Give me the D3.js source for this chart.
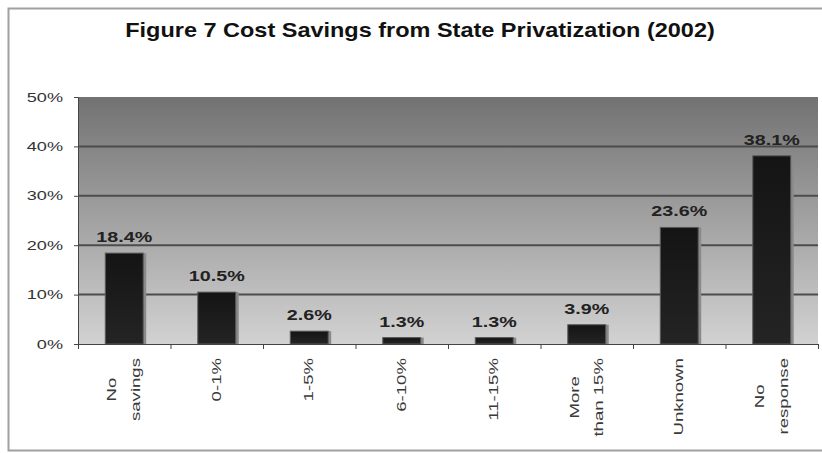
<!DOCTYPE html>
<html>
<head>
<meta charset="utf-8">
<script src="https://cdn.jsdelivr.net/npm/d3@7"></script>
<style>
  html, body { margin: 0; padding: 0; background: #fff; }
  svg { display: block; font-family: "Liberation Sans", Arial, sans-serif; }
</style>
</head>
<body>
<svg id="chart" width="822" height="453"></svg>
<script>
const titleText = "Figure 7 Cost Savings from State Privatization (2002)";
const categories = [["No", "savings"], ["0-1%"], ["1-5%"], ["6-10%"], ["11-15%"], ["More", "than 15%"], ["Unknown"], ["No", "response"]];
const values = [18.4, 10.5, 2.6, 1.3, 1.3, 3.9, 23.6, 38.1];
const yTicks = [0, 10, 20, 30, 40, 50];

const svg = d3.select("#chart");
const plot = { left: 78, right: 818, top: 97, bottom: 344 };

// outer frame
svg.append("rect")
  .attr("x", 8.5).attr("y", 8.5).attr("width", 830).attr("height", 442)
  .attr("fill", "#fff").attr("stroke", "#a0a0a0").attr("stroke-width", 2);

const defs = svg.append("defs");
const bg = defs.append("linearGradient").attr("id", "bgGrad")
  .attr("x1", 0).attr("y1", 0).attr("x2", 0).attr("y2", 1);
bg.append("stop").attr("offset", "0%").attr("stop-color", "#727272");
bg.append("stop").attr("offset", "100%").attr("stop-color", "#d2d2d2");

const barG = defs.append("linearGradient").attr("id", "barGrad")
  .attr("x1", 0).attr("y1", 0).attr("x2", 0).attr("y2", 1);
barG.append("stop").attr("offset", "0%").attr("stop-color", "#141414");
barG.append("stop").attr("offset", "100%").attr("stop-color", "#242424");

const keys = categories.map(c => c.join(" "));
const x = d3.scaleBand().domain(keys).range([plot.left, plot.right])
  .paddingInner(0.59).paddingOuter(0.295);
const xb = d3.scaleLinear().domain([0, categories.length]).range([plot.left, plot.right]);
const y = d3.scaleLinear().domain([0, 50]).range([plot.bottom, plot.top]);

// plot background
svg.append("rect")
  .attr("x", plot.left).attr("y", y(50))
  .attr("width", plot.right - plot.left).attr("height", y(0) - y(50))
  .attr("fill", "url(#bgGrad)");

// gridlines
svg.append("g").selectAll("line")
  .data(yTicks.filter(d => d > 0 && d < 50))
  .join("line")
  .attr("x1", plot.left).attr("x2", plot.right)
  .attr("y1", d => y(d)).attr("y2", d => y(d))
  .attr("stroke", "#4c4c4c").attr("stroke-width", 2);

// title
const title = svg.append("text")
  .attr("text-anchor", "middle")
  .attr("font-weight", "bold").attr("font-size", 20).attr("fill", "#111")
  .text(titleText);
{
  const len = title.node().getComputedTextLength();
  title.attr("transform", `translate(420,37) scale(${590 / len},1)`);
}

// bars: shadow + bar
const bars = svg.append("g");
bars.selectAll("rect.shadow")
  .data(values)
  .join("rect").attr("class", "shadow")
  .attr("x", (d, i) => x(keys[i]) + 3)
  .attr("y", d => y(d))
  .attr("width", x.bandwidth())
  .attr("height", d => y(0) - y(d))
  .attr("fill", "#8a8a8a");
bars.selectAll("rect.bar")
  .data(values)
  .join("rect").attr("class", "bar")
  .attr("x", (d, i) => x(keys[i]))
  .attr("y", d => y(d))
  .attr("width", x.bandwidth())
  .attr("height", d => y(0) - y(d))
  .attr("fill", "url(#barGrad)")
  .attr("stroke", "#5a5a5a").attr("stroke-width", 1);

// value labels
svg.append("g").selectAll("text")
  .data(values)
  .join("text")
  .attr("text-anchor", "middle")
  .attr("font-weight", "bold").attr("font-size", 14.5).attr("fill", "#222")
  .attr("transform", (d, i) => `translate(${x(keys[i]) + x.bandwidth() / 2},${y(d) - 11}) scale(1.36,1)`)
  .text(d => d.toFixed(1) + "%");

// y axis
const yAxis = svg.append("g")
  .attr("transform", `translate(${plot.left},0)`)
  .call(d3.axisLeft(y).tickValues(yTicks).tickFormat(d => d + "%").tickSize(4).tickSizeOuter(0));
yAxis.select(".domain").attr("stroke", "#444");
yAxis.selectAll(".tick line").attr("stroke", "#444");
yAxis.selectAll(".tick text")
  .attr("x", 0)
  .attr("transform", "translate(-15,0) scale(1.45,1)")
  .attr("font-size", 12.5).attr("fill", "#333")
  .attr("font-family", "Liberation Sans, Arial, sans-serif");

// x axis (ticks at category boundaries)
const xAxis = svg.append("g")
  .attr("transform", `translate(0,${plot.bottom})`)
  .call(d3.axisBottom(xb).tickValues(d3.range(categories.length + 1)).tickFormat("").tickSize(5).tickSizeOuter(0));
xAxis.select(".domain").attr("stroke", "#444");
xAxis.selectAll(".tick line").attr("stroke", "#444");

// category labels (rotated)
const stretch = 1.55, lineGap = 24, topY = 358;
categories.forEach((lines, i) => {
  const cx = x(keys[i]) + x.bandwidth() / 2;
  const g = svg.append("g");
  const texts = lines.map((ln, j) => g.append("text")
    .attr("text-anchor", "middle")
    .attr("font-size", 12).attr("fill", "#3a3a3a")
    .attr("y", (j - (lines.length - 1) / 2) * lineGap)
    .attr("dy", "0.35em")
    .text(ln));
  const L = d3.max(texts, t => t.node().getComputedTextLength()) * stretch;
  texts.forEach(t => t.attr("transform", `rotate(-90) scale(${stretch},1)`));
  g.attr("transform", `translate(${cx},${topY + L / 2})`);
});
</script>
</body>
</html>
